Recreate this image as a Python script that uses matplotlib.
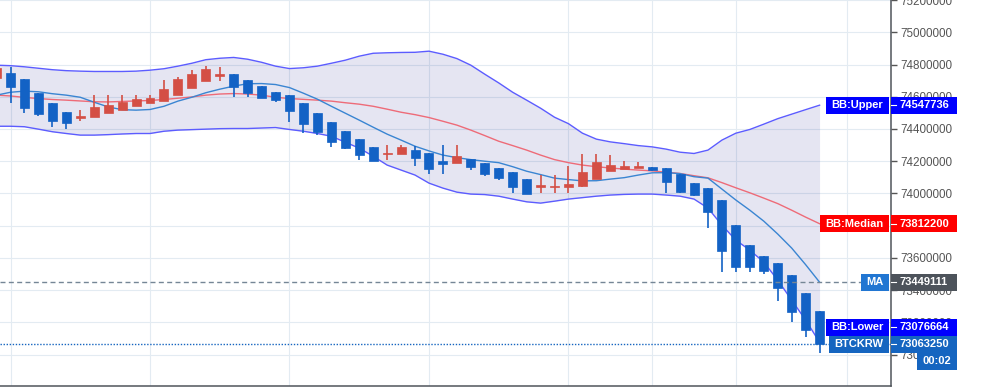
import numpy as np
import matplotlib
matplotlib.use('Agg')
import matplotlib.pyplot as plt
from matplotlib.patches import Rectangle
from matplotlib.lines import Line2D
from matplotlib.transforms import IdentityTransform
from matplotlib.ticker import MultipleLocator, FuncFormatter

plt.rcParams['font.family'] = ['Liberation Sans', 'DejaVu Sans']

# BTCKRW candles, prices in thousand KRW (first candle is cut off at the left edge)
opens = [74715, 74748, 74709, 74622, 74560, 74504, 74469, 74473, 74498, 74519,
         74541, 74560, 74574, 74612, 74655, 74698, 74728, 74740, 74703, 74666,
         74628, 74610, 74560, 74498, 74442, 74386, 74337, 74287, 74246, 74246,
         74269, 74250, 74200, 74190, 74215, 74188, 74157, 74132, 74089, 74039,
         74039, 74039, 74045, 74089, 74138, 74151, 74157, 74163, 74157, 74123,
         74064, 74033, 73959, 73803, 73679, 73611, 73568, 73493, 73382, 73270]
highs = [74790, 74783, 74709, 74622, 74560, 74504, 74517, 74610, 74610, 74610,
         74610, 74610, 74703, 74721, 74765, 74790, 74783, 74740, 74703, 74666,
         74628, 74610, 74560, 74498, 74442, 74386, 74337, 74287, 74300, 74300,
         74293, 74250, 74300, 74300, 74215, 74188, 74157, 74132, 74089, 74114,
         74114, 74171, 74244, 74244, 74238, 74200, 74194, 74163, 74157, 74123,
         74064, 74033, 73959, 73803, 73679, 73611, 73568, 73493, 73382, 73270]
lows = [74703, 74562, 74500, 74479, 74411, 74399, 74448, 74473, 74498, 74519,
        74541, 74560, 74574, 74612, 74655, 74698, 74698, 74599, 74599, 74593,
        74568, 74444, 74376, 74363, 74289, 74275, 74208, 74202, 74208, 74246,
        74171, 74122, 74122, 74190, 74146, 74109, 74084, 74004, 73996, 74002,
        74002, 74002, 74039, 74089, 74138, 74151, 74157, 74138, 74002, 74002,
        73983, 73785, 73512, 73512, 73512, 73500, 73334, 73204, 73111, 73011]
closes = [74777, 74661, 74531, 74494, 74450, 74438, 74479, 74535, 74548, 74566,
          74585, 74591, 74647, 74709, 74740, 74771, 74740, 74661, 74624, 74593,
          74581, 74512, 74432, 74382, 74320, 74283, 74239, 74202, 74252, 74287,
          74221, 74153, 74184, 74233, 74165, 74122, 74097, 74039, 73996, 74052,
          74045, 74058, 74132, 74194, 74176, 74169, 74169, 74145, 74070, 74008,
          73990, 73884, 73642, 73543, 73543, 73520, 73415, 73266, 73154, 73063.25]

bb_upper = [74796, 74793, 74786, 74777, 74768, 74762, 74759, 74757, 74757, 74757,
            74759, 74765, 74774, 74790, 74808, 74830, 74839, 74844, 74833, 74814,
            74790, 74775, 74780, 74790, 74808, 74827, 74852, 74870, 74873, 74875,
            74876, 74883, 74864, 74837, 74796, 74740, 74686, 74628, 74579, 74529,
            74473, 74433, 74374, 74337, 74320, 74309, 74297, 74289, 74275, 74256,
            74248, 74269, 74331, 74374, 74397, 74430, 74464, 74492, 74520, 74547.736]
bb_median = [74610, 74605, 74596, 74589, 74583, 74579, 74574, 74569, 74568, 74571,
             74574, 74577, 74583, 74591, 74599, 74610, 74617, 74620, 74617, 74610,
             74597, 74589, 74584, 74579, 74573, 74563, 74554, 74541, 74523, 74504,
             74489, 74471, 74448, 74424, 74393, 74359, 74324, 74297, 74269, 74238,
             74210, 74191, 74176, 74166, 74158, 74151, 74145, 74140, 74132, 74124,
             74110, 74097, 74067, 74035, 74004, 73971, 73937, 73896, 73853, 73812.2]
bb_lower = [74417, 74417, 74414, 74399, 74383, 74372, 74362, 74362, 74365, 74369,
            74372, 74372, 74386, 74393, 74396, 74399, 74402, 74403, 74403, 74406,
            74409, 74397, 74386, 74372, 74355, 74318, 74281, 74231, 74176, 74145,
            74114, 74064, 74033, 74008, 73996, 73993, 73983, 73965, 73948, 73940,
            73952, 73965, 73974, 73983, 73990, 73994, 73996, 73996, 73990, 73983,
            73965, 73909, 73803, 73710, 73648, 73574, 73462, 73338, 73214, 73076.664]
ma = [74610, 74628, 74635, 74631, 74619, 74610, 74597, 74566, 74537, 74520,
      74517, 74521, 74541, 74573, 74597, 74625, 74647, 74666, 74681, 74682,
      74676, 74657, 74622, 74585, 74541, 74498, 74455, 74411, 74368, 74331,
      74293, 74264, 74238, 74222, 74210, 74200, 74191, 74166, 74138, 74117,
      74095, 74086, 74078, 74079, 74089, 74098, 74114, 74128, 74129, 74123,
      74104, 74095, 74027, 73959, 73896, 73828, 73748, 73661, 73558, 73449.111]

time_grid = [0, 10, 20, 30, 40, 46, 52, 60]
clock = '00:02'
symbol = 'BTCKRW'

k = 1000
o = np.array(opens) * k
h = np.array(highs) * k
l = np.array(lows) * k
c = np.array(closes) * k
up_b = np.array(bb_upper) * k
md_b = np.array(bb_median) * k
lo_b = np.array(bb_lower) * k
ma_l = np.array(ma) * k
x = np.arange(-1, len(opens) - 1)

RED = '#d44f45'
BLUE = '#1362c5'

fig = plt.figure(figsize=(10, 3.87), dpi=100)
ax = fig.add_axes([0, 1 / 387, 0.891, 386 / 387])
ax.set_xlim(-0.753, 63.12)
ax.set_ylim(72804900, 75200600)

ax.set_xticks(time_grid)
ax.yaxis.set_major_locator(MultipleLocator(200000))
ax.yaxis.set_major_formatter(FuncFormatter(lambda v, p: f'{v:.0f}'))
ax.yaxis.tick_right()
ax.tick_params(axis='x', length=0, labelbottom=False)
ax.tick_params(axis='y', direction='out', length=4, width=1, color='#555555',
               labelsize=8.4, labelcolor='#555555', pad=3)
ax.grid(True, color='#e3ebf2', lw=0.8, zorder=0)
ax.set_axisbelow(True)
for s in ['left', 'top']:
    ax.spines[s].set_visible(False)
for s in ['right', 'bottom']:
    ax.spines[s].set_color('#50555b')
    ax.spines[s].set_linewidth(1.1)

ax.fill_between(x, lo_b, up_b, color='#000080', alpha=0.1, lw=0, zorder=1)
ax.plot(x, up_b, color='#5c5cff', lw=1.0, zorder=2)
ax.plot(x, lo_b, color='#5c5cff', lw=1.0, zorder=2)
ax.plot(x, md_b, color='#ee6b78', lw=1.0, zorder=2)
ax.plot(x, ma_l, color='#3a85d2', lw=1.0, zorder=2)

col = np.where(c >= o, RED, BLUE)
ax.vlines(x, l, h, colors=col, lw=1.2, zorder=3)
ax.bar(x, np.abs(c - o), bottom=np.minimum(o, c), width=0.645,
       color=col, edgecolor=col, linewidth=0.5, zorder=3)

ax.axhline(ma_l[-1], color='#758696', lw=1, dashes=(3.6, 2.4), zorder=4)
ax.axhline(c[-1], color='#1565c0', lw=1, dashes=(1, 1.2), zorder=4)

fig.canvas.draw()
rend = fig.canvas.get_renderer()
ident = IdentityTransform()
H = 17


def ypix(v):
    return ax.transData.transform((0, v))[1]


def tag(yc, name, value, c_name, c_val):
    if value is not None:
        fig.add_artist(Rectangle((891, yc - H / 2), 66, H, transform=ident,
                                 facecolor=c_val, edgecolor='none', zorder=5))
        fig.add_artist(Line2D([891, 896], [yc, yc], transform=ident,
                              color='white', lw=0.8, zorder=6))
        fig.text(900, yc, value, transform=ident, color='white', fontsize=8,
                 fontweight='bold', ha='left', va='center', zorder=6)
    if name is not None:
        t = fig.text(0, yc, name, transform=ident, color='white', fontsize=8,
                     fontweight='bold', ha='center', va='center', zorder=6)
        w = t.get_window_extent(rend).width + 11
        t.set_x(889 - w / 2)
        fig.add_artist(Rectangle((889 - w, yc - H / 2), w, H, transform=ident,
                                 facecolor=c_name, edgecolor='none', zorder=5))


y_btc = ypix(c[-1])
y_low = ypix(lo_b[-1])
if abs(y_low - y_btc) < H:
    y_low = y_btc + H

tag(ypix(up_b[-1]), 'BB:Upper', f'{up_b[-1]:.0f}', '#0000ff', '#0000ff')
tag(ypix(md_b[-1]), 'BB:Median', f'{md_b[-1]:.0f}', '#ff0000', '#ff0000')
tag(ypix(ma_l[-1]), 'MA', f'{ma_l[-1]:.0f}', '#2176d2', '#4d535b')
tag(y_low, 'BB:Lower', f'{lo_b[-1]:.0f}', '#0000ff', '#0000ff')
tag(y_btc, symbol, f'{c[-1]:.0f}', '#1565c0', '#1565c0')

yt = y_btc - H
fig.add_artist(Rectangle((917, yt - H / 2), 40, H, transform=ident,
                         facecolor='#1565c0', edgecolor='none', zorder=5))
fig.text(937, yt, clock, transform=ident, color='white', fontsize=8,
         fontweight='bold', ha='center', va='center', zorder=6)

fig.savefig('out.png', dpi=100)
